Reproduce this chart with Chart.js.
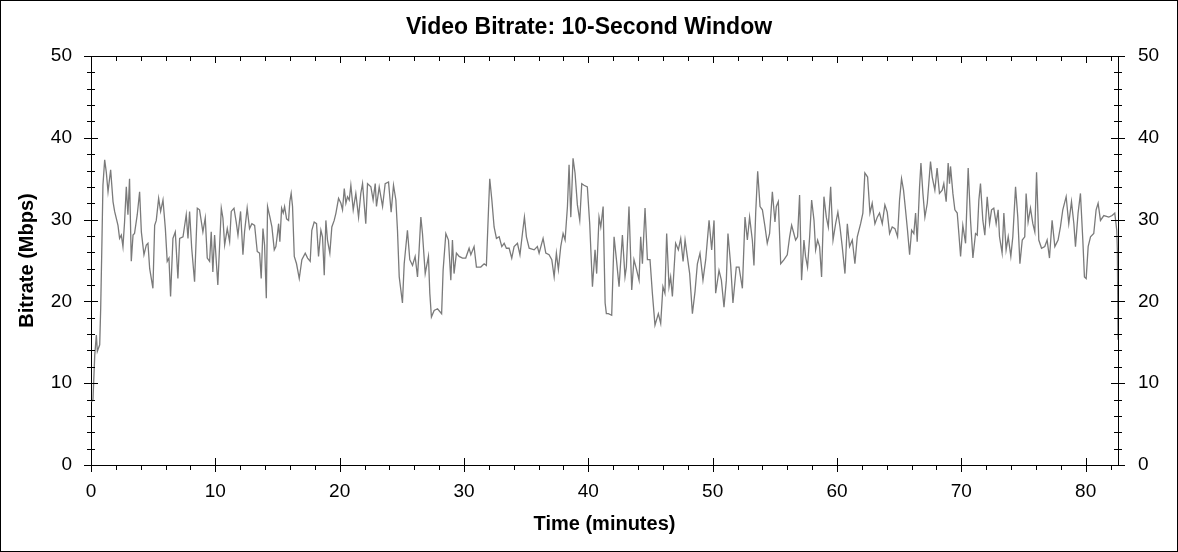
<!DOCTYPE html>
<html>
<head>
<meta charset="utf-8">
<title>Video Bitrate</title>
<script src="https://cdn.jsdelivr.net/npm/chart.js@4.4.1/dist/chart.umd.min.js"></script>
<style>
  html, body { margin: 0; padding: 0; background: #fff; }
  #wrap { position: relative; width: 1178px; height: 552px; }
  #frame { position: absolute; left: 0; top: 0; width: 1178px; height: 552px;
           box-sizing: border-box; border: 1px solid #000; pointer-events: none; }
</style>
</head>
<body>
<div id="wrap">
  <canvas id="canvas" width="1178" height="552"></canvas>
  <div id="frame"></div>
</div>
<script>
// time axis (minutes) and bitrate (Mbps)
var minutes = [
  0.03,0.16,0.3,0.43,0.51,0.7,0.78,0.88,0.96,1.1,
  1.23,1.37,1.58,1.77,1.9,2.17,2.3,2.44,2.57,2.7,
  2.84,2.97,3.1,3.24,3.38,3.5,3.72,3.91,4.05,4.26,
  4.45,4.58,4.72,4.98,5.12,5.25,5.44,5.6,5.79,5.98,
  6.13,6.27,6.4,6.59,6.78,6.99,7.13,7.4,7.66,7.8,
  7.93,8.1,8.33,8.55,8.73,9.0,9.19,9.35,9.54,9.67,
  9.8,9.94,10.2,10.48,10.61,10.75,10.96,11.15,11.28,11.5,
  11.68,11.82,12.03,12.22,12.35,12.56,12.75,12.94,13.16,13.37,
  13.56,13.69,13.83,13.96,14.1,
  14.2,14.39,14.55,14.74,14.87,15.0,15.09,15.19,15.33,15.46,
  15.57,15.73,15.89,15.99,16.1,16.21,16.35,16.53,16.75,16.96,
  17.23,17.42,17.63,17.76,17.95,18.14,18.3,18.49,18.62,18.76,
  18.89,19.02,19.21,19.37,19.56,19.7,19.91,20.1,20.23,20.37,
  20.5,20.63,20.77,20.9,21.09,21.3,21.52,21.7,21.84,22.1,
  22.24,22.51,22.69,22.86,22.96,23.18,23.45,23.66,23.93,24.14,
  24.33,24.52,24.65,24.79,25.05,25.19,25.45,25.64,25.86,26.07,
  26.26,26.39,26.53,26.66,26.88,27.14,27.25,27.38,27.6,27.87,
  28.2,28.32,28.54,28.75,28.94,29.07,29.2,29.39,29.61,29.88,
  30.14,30.41,30.55,30.81,31.0,31.35,31.62,31.8,31.97,32.07,
  32.24,32.42,32.61,32.83,33.04,33.23,33.41,33.63,33.84,34.03,
  34.3,34.5,34.7,34.86,35.02,35.24,35.64,35.9,36.04,36.36,
  36.58,36.84,37.06,37.25,37.43,37.59,37.78,37.97,38.13,38.32,
  38.45,38.59,38.77,38.93,39.12,39.31,39.47,39.65,39.92,40.11,
  40.33,40.54,40.67,40.86,41.0,41.19,41.35,41.45,
  41.61,41.88,42.07,42.26,42.47,42.74,42.95,43.06,43.27,43.49,
  43.67,43.86,44.08,44.21,44.35,44.56,44.75,44.96,45.15,45.36,
  45.63,45.82,46.0,46.16,46.3,46.49,46.62,46.76,47.02,47.24,
  47.43,47.62,47.78,47.96,48.15,48.37,48.58,48.77,48.98,49.22,
  49.44,49.71,49.92,50.11,50.24,50.51,50.7,50.91,51.1,51.23,
  51.45,51.63,51.9,52.12,52.39,52.6,52.79,52.97,53.19,53.32,
  53.46,53.62,53.81,54.0,54.21,54.39,54.58,54.8,55.01,55.12,
  55.28,55.47,55.74,56.0,56.19,56.35,56.53,56.67,56.83,56.99,
  57.15,57.34,57.47,57.63,57.8,57.96,58.15,58.28,58.44,58.6,
  58.76,58.95,59.14,59.3,59.49,59.68,59.89,60.07,60.24,60.42,
  60.64,60.83,61.01,61.23,61.44,61.63,61.9,62.08,62.24,62.46,
  62.65,62.83,63.05,63.24,63.42,63.64,63.85,64.04,64.23,64.44,
  64.66,64.87,65.03,65.19,65.35,65.51,65.67,65.84,66.0,66.18,
  66.32,66.45,66.64,66.75,66.91,67.07,67.26,67.52,67.66,67.87,
  68.05,68.24,68.46,68.59,68.78,
  68.94,69.05,69.13,69.32,69.48,69.67,69.8,69.94,70.12,70.34,
  70.55,70.74,70.93,71.14,71.28,71.41,71.54,71.73,71.89,72.08,
  72.27,72.43,72.61,72.8,72.96,73.07,73.28,73.42,73.6,73.77,
  73.98,74.14,74.36,74.54,74.71,74.9,75.1,75.21,75.37,75.56,
  75.75,75.91,76.05,76.23,76.45,76.71,76.9,77.09,77.3,77.52,
  77.78,77.97,78.16,78.43,78.64,78.86,79.05,79.18,79.39,79.58,
  79.77,79.9,80.04,80.2,80.39,80.65,80.84,81.0,81.19,81.46,
  81.86,82.13,82.34,82.5,82.55,82.6
];

var mbps = [
  7.7,8.0,13.4,15.9,13.9,14.7,19.2,27.3,34.2,37.3,
  35.8,33.4,36.1,32.2,31.0,29.3,27.7,28.1,26.7,29.7,
  34.0,30.6,35.0,24.9,28.1,28.3,30.6,33.4,28.5,25.7,
  26.9,27.1,24.0,21.6,29.3,29.9,32.6,31.0,32.4,28.9,
  24.9,25.3,20.6,27.7,28.5,22.8,27.7,27.9,30.6,27.7,
  31.0,26.5,22.4,31.4,31.2,28.5,30.2,25.3,24.9,28.5,
  23.6,28.1,22.0,31.4,30.2,26.9,28.9,27.3,31.0,31.4,
  29.7,28.1,31.0,25.7,28.5,31.4,28.9,29.5,29.3,26.1,
  25.9,22.8,28.9,26.9,20.4,
  31.6,30.3,29.1,26.3,26.7,28.3,29.5,27.3,31.4,30.8,
  31.6,30.1,29.9,32.2,33.2,31.6,25.5,24.6,22.8,25.1,
  25.9,25.3,24.9,28.7,29.7,29.5,25.5,28.7,27.9,23.2,
  29.9,27.5,25.9,29.1,29.9,30.8,32.6,32.0,31.2,33.8,
  32.0,32.8,32.4,34.2,31.2,33.2,30.3,33.2,34.4,29.5,
  34.4,34.0,32.4,34.4,31.6,34.0,31.6,34.4,34.6,30.9,
  34.2,32.4,28.7,23.0,19.8,24.6,28.7,25.1,24.4,25.5,
  23.0,26.3,30.3,28.3,23.4,25.5,21.0,18.1,18.9,19.1,
  18.5,23.8,28.3,27.5,22.6,27.5,23.4,25.9,25.5,25.3,
  25.3,26.5,25.7,26.7,24.2,24.2,24.6,24.4,31.2,35.0,
  32.4,29.1,27.7,27.9,26.7,27.1,26.5,26.5,25.3,26.7,
  27.1,25.7,28.3,30.3,27.9,26.5,26.3,26.7,25.9,27.7,
  25.9,25.7,25.1,23.0,25.9,23.9,26.7,28.3,27.5,31.6,
  36.7,30.3,37.5,35.7,31.8,29.9,34.4,34.2,34.0,29.5,
  21.8,26.3,23.4,30.3,29.1,31.6,19.8,18.5,
  18.5,18.3,27.9,25.1,21.8,28.1,23.0,24.2,31.6,21.4,
  25.1,24.0,22.6,27.9,24.6,31.4,25.1,25.1,21.0,17.1,
  18.5,17.3,21.8,21.0,28.3,21.8,23.0,20.6,27.1,26.3,
  27.7,24.9,27.5,25.5,23.4,18.5,21.2,24.6,25.9,22.6,
  25.1,29.9,26.3,29.9,21.0,23.8,22.6,19.3,22.6,28.3,
  24.4,19.8,24.2,24.2,21.6,30.3,27.5,30.3,27.5,24.4,
  30.8,35.9,31.6,31.2,29.1,27.1,28.3,33.4,29.7,31.6,
  32.2,24.6,25.1,25.7,27.9,29.3,28.3,27.5,27.9,33.0,
  22.6,27.5,25.5,24.2,27.9,32.4,29.9,26.3,27.5,26.7,
  23.0,32.8,30.3,29.1,34.0,27.5,29.5,30.9,29.1,26.7,
  23.4,29.5,26.7,27.5,24.6,27.9,29.5,30.8,35.7,35.2,
  30.8,32.0,29.5,30.3,30.8,29.5,31.8,30.9,28.3,29.1,
  28.9,27.9,32.4,35.0,33.6,31.2,28.7,25.7,28.7,28.3,
  30.8,27.3,34.0,36.9,33.2,30.3,32.0,37.1,35.2,33.6,
  36.3,33.2,33.6,34.4,32.2,
  36.9,34.4,36.5,33.2,31.2,30.8,28.3,25.5,29.3,27.1,
  36.3,29.9,25.3,28.3,28.1,32.4,34.4,29.9,28.1,32.8,
  29.5,31.2,31.4,29.5,31.2,27.9,25.9,30.8,26.3,27.9,
  25.5,27.9,34.0,30.3,24.6,27.5,27.9,33.2,29.7,31.4,
  29.5,28.5,35.8,27.5,26.5,26.7,27.5,25.3,29.9,26.7,
  27.5,29.1,31.2,32.8,29.5,32.2,29.5,26.7,30.8,33.2,
  27.5,23.0,22.8,26.7,27.9,28.3,31.2,32.0,29.9,30.5,
  30.3,30.5,30.8,28.7,26.3,15.3
];

var xTicks = [0, 10, 20, 30, 40, 50, 60, 70, 80];
var yTicks = [0, 10, 20, 30, 40, 50];
var xMax = 82.6;
var minorStep = 2;

if (minutes.length !== mbps.length) console.log('length mismatch', minutes.length, mbps.length);

var FONT = "'Liberation Sans', Arial, sans-serif";
Chart.defaults.color = '#000';
Chart.defaults.font.family = FONT;

// small crossing ticks on all four sides of the plot box
var tickMarks = {
  id: 'tickMarks',
  afterDraw: function(chart) {
    var c = chart.ctx, a = chart.chartArea;
    var sx = chart.scales.x, sy = chart.scales.y;
    c.save();
    c.strokeStyle = '#000';
    c.lineWidth = 1;
    c.beginPath();
    for (var i = 0; i * minorStep <= xMax; i++) {
      var m = i * minorStep;
      var px = Math.round(sx.getPixelForValue(m)) + 0.5;
      var major = xTicks.indexOf(m) >= 0;
      c.moveTo(px, a.bottom + (major ? 7 : 5));
      c.lineTo(px, major ? a.bottom - 7 : a.bottom);
      c.moveTo(px, a.top);
      c.lineTo(px, a.top + (major ? 7 : 5));
    }
    for (var j = 0; j * minorStep <= 50; j++) {
      var v = j * minorStep;
      var py = Math.round(sy.getPixelForValue(v)) + 0.5;
      var len = yTicks.indexOf(v) >= 0 ? 7 : 4;
      c.moveTo(a.left - len, py); c.lineTo(a.left + len, py);
      c.moveTo(a.right - len, py); c.lineTo(a.right + len, py);
    }
    c.stroke();
    c.restore();
  }
};

var tickFont = { family: FONT, size: 19 };
var titleFont = { family: FONT, size: 20, weight: 'bold' };

var ctx = document.getElementById('canvas').getContext('2d');
var chart = new Chart(ctx, {
  type: 'line',
  data: {
    datasets: [{
      data: minutes.map(function(m, i) { return { x: m, y: mbps[i] }; }),
      borderColor: '#7a7a7a',
      borderWidth: 1.3,
      pointRadius: 0,
      tension: 0,
      fill: false,
      xAxisID: 'x',
      yAxisID: 'y'
    }]
  },
  options: {
    responsive: false,
    animation: false,
    layout: { padding: 0 },
    plugins: {
      legend: { display: false },
      tooltip: { enabled: false },
      title: {
        display: true,
        text: 'Video Bitrate: 10-Second Window',
        color: '#000',
        font: { family: FONT, size: 23, weight: 'bold' },
        padding: { top: 14.2, bottom: 14.2 }
      }
    },
    scales: {
      x: {
        type: 'linear', position: 'bottom', min: 0, max: xMax,
        afterBuildTicks: function(s) { s.ticks = xTicks.map(function(v) { return { value: v }; }); },
        grid: { display: false, drawTicks: false },
        border: { display: true, color: '#000', width: 1 },
        ticks: { font: tickFont, color: '#000', padding: 15, maxRotation: 0, autoSkip: false },
        title: { display: true, text: 'Time (minutes)', font: titleFont, color: '#000', padding: { top: 0, bottom: 16 } },
        afterFit: function(s) { s.height = 87; }
      },
      xTop: {
        type: 'linear', axis: 'x', position: 'top', min: 0, max: xMax,
        grid: { display: false, drawTicks: false },
        border: { display: true, color: '#000', width: 1 },
        ticks: { display: false },
        afterFit: function(s) { s.height = 0; }
      },
      y: {
        type: 'linear', position: 'left', min: 0, max: 50,
        afterBuildTicks: function(s) { s.ticks = yTicks.map(function(v) { return { value: v }; }); },
        grid: { display: false, drawTicks: false },
        border: { display: true, color: '#000', width: 1 },
        ticks: { font: tickFont, color: '#000', padding: 19 },
        title: { display: true, text: 'Bitrate (Mbps)', font: titleFont, color: '#000', padding: { top: 15, bottom: 0 } },
        afterFit: function(s) { s.width = 91; }
      },
      y2: {
        type: 'linear', axis: 'y', position: 'right', min: 0, max: 50,
        afterBuildTicks: function(s) { s.ticks = yTicks.map(function(v) { return { value: v }; }); },
        grid: { display: false, drawTicks: false },
        border: { display: true, color: '#000', width: 1 },
        ticks: { font: tickFont, color: '#000', padding: 20 },
        afterFit: function(s) { s.width = 60; }
      }
    }
  },
  plugins: [tickMarks]
});
</script>
</body>
</html>
